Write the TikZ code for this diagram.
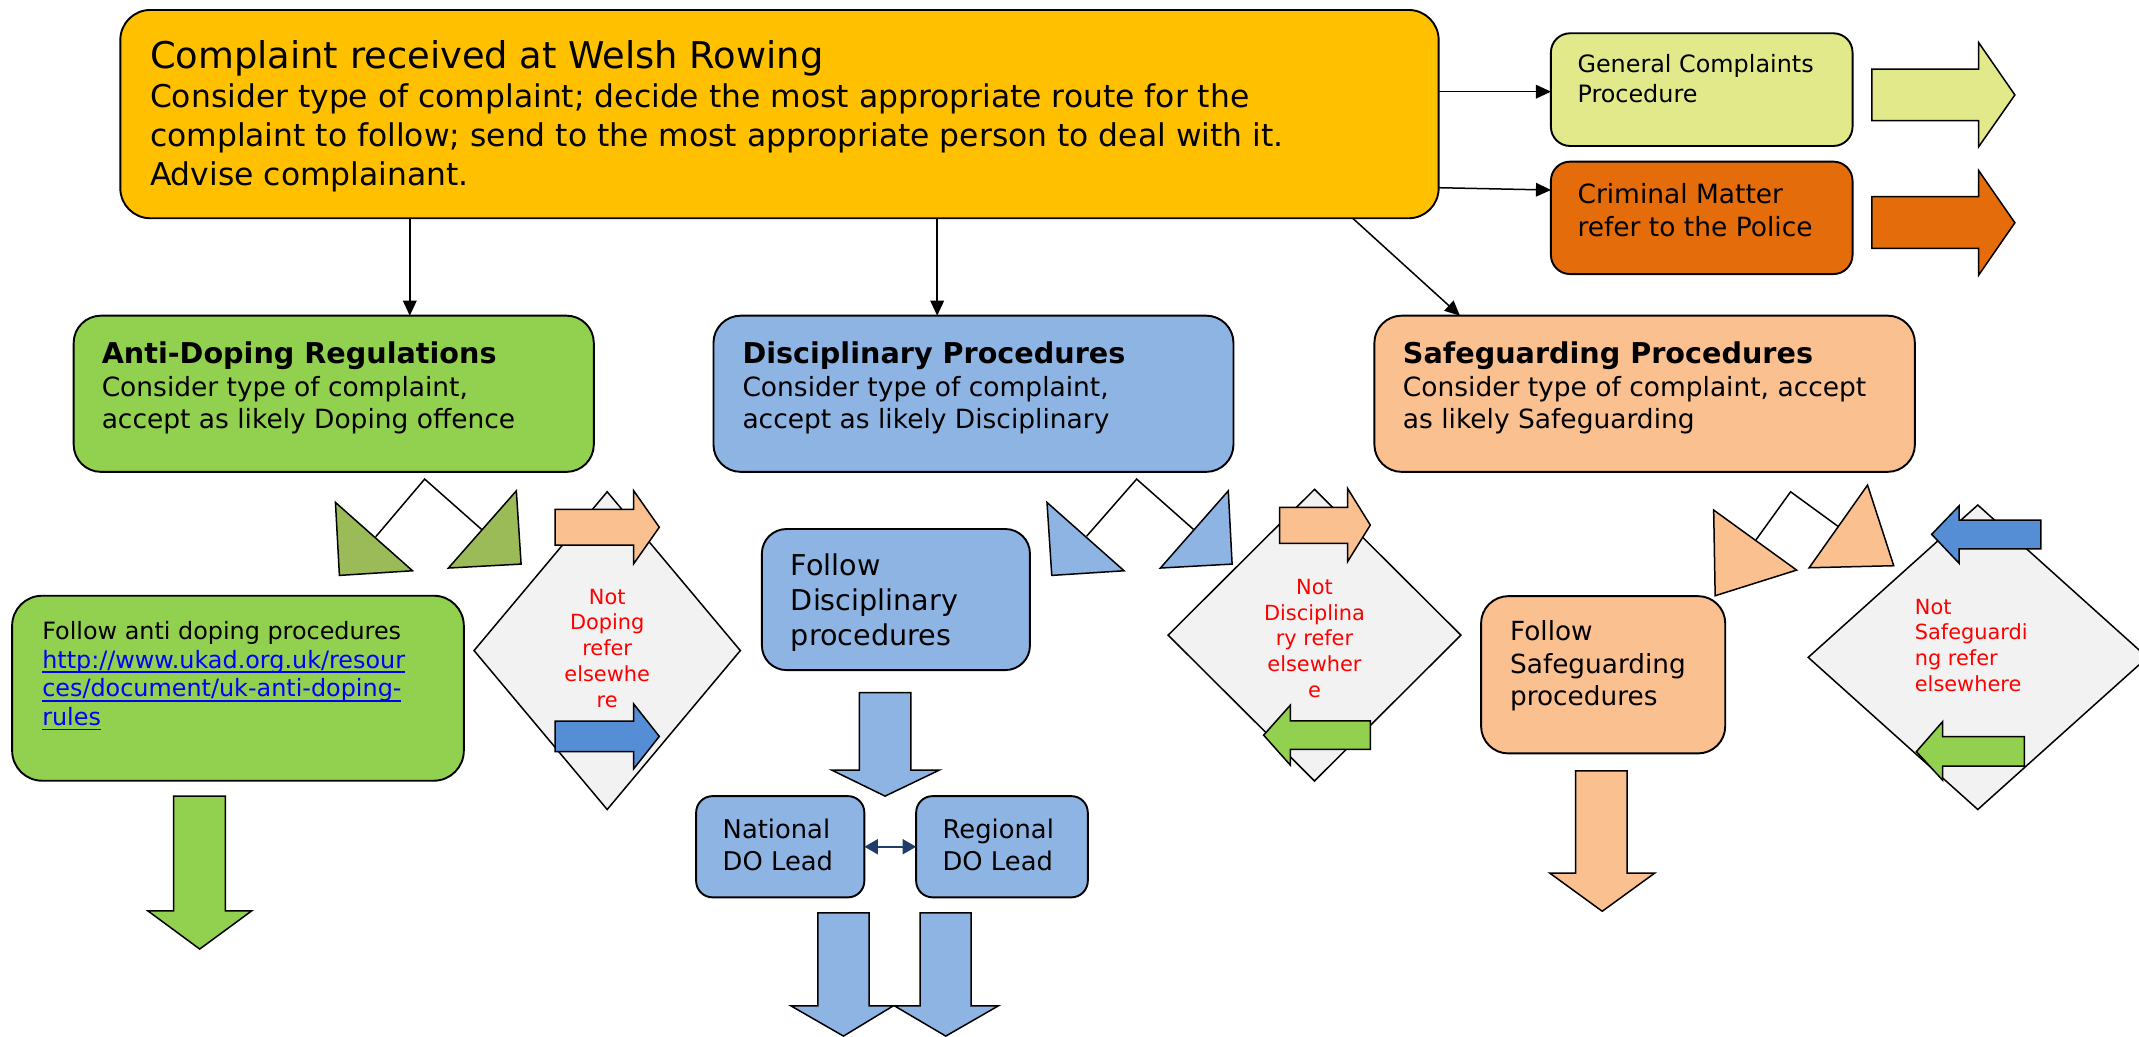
\documentclass[tikz,border=0pt]{standalone}
\usepackage{fontspec}
\setmainfont{DejaVu Sans}
\usetikzlibrary{arrows.meta}
\definecolor{cgold}{HTML}{FFC000}
\definecolor{cgen}{HTML}{E1E98A}
\definecolor{ccrim}{HTML}{E46C0A}
\definecolor{cgreen}{HTML}{92D050}
\definecolor{cblue}{HTML}{8EB4E3}
\definecolor{cpeach}{HTML}{FAC090}
\definecolor{colive}{HTML}{9BBB59}
\definecolor{cgrey}{HTML}{F2F2F2}
\definecolor{cmblue}{HTML}{558ED5}
\definecolor{cnavy}{HTML}{1F3D6B}
\definecolor{clink}{HTML}{0000FF}
\newsavebox\lkbox
\newcommand\lk[1]{\textcolor{clink}{\sbox\lkbox{#1}\rlap{\usebox\lkbox}\rule[-3.4pt]{\wd\lkbox}{1pt}}}
\begin{document}
\begin{tikzpicture}[x=1pt,y=-1pt,
 box/.style={draw=black,line width=1.4pt,rounded corners=#1,inner sep=0pt,outer sep=0pt},
 box/.default=18pt,
 txt/.style={inner sep=0pt,outer sep=0pt,align=left,anchor=north west},
 ttl/.style={inner sep=0pt,outer sep=0pt,anchor=base west},
 conn/.style={draw=black,line width=1.1pt,-{Triangle[length=11pt,width=10pt]}},
 dbl/.style={draw=cnavy,line width=1.6pt,{Triangle[length=10pt,width=11pt]}-{Triangle[length=10pt,width=11pt]}},
 blk/.style={draw=black,line width=1.1pt,line join=miter},
 dia/.style={draw=black,line width=1.1pt,fill=cgrey},
 rtxt/.style={inner sep=0pt,outer sep=0pt,text=red,font=\fontsize{15.3}{19}\selectfont}
]
\useasboundingbox (0,0) rectangle (1568,760);

% ---------- boxes ----------
\node[box=22pt,fill=cgold,minimum width=966.4pt,minimum height=152.7pt] (top) at (571.4,83.65) {};
\node[box=14pt,fill=cgen,minimum width=221.1pt,minimum height=82.6pt] (gc) at (1247.45,65.7) {};
\node[box=14pt,fill=ccrim,minimum width=221.1pt,minimum height=82.4pt] (cm) at (1247.45,159.7) {};
\node[box=20pt,fill=cgreen,minimum width=381.3pt,minimum height=114.5pt] (ad) at (244.65,288.65) {};
\node[box=20pt,fill=cblue,minimum width=381.2pt,minimum height=114.5pt] (dp) at (713.6,288.65) {};
\node[box=20pt,fill=cpeach,minimum width=396.2pt,minimum height=114.5pt] (sg) at (1205.6,288.65) {};
\node[box=22pt,fill=cgreen,minimum width=331.1pt,minimum height=135.6pt] (fad) at (174.45,504.5) {};
\node[box=18pt,fill=cblue,minimum width=196.5pt,minimum height=103.4pt] (fdp) at (656.75,439.5) {};
\node[box=20pt,fill=cpeach,minimum width=179pt,minimum height=115.3pt] (fsg) at (1175.2,494.65) {};
\node[box=12pt,fill=cblue,minimum width=123.3pt,minimum height=74.2pt] (nat) at (571.95,620.7) {};
\node[box=12pt,fill=cblue,minimum width=125.8pt,minimum height=74.2pt] (reg) at (734.5,620.7) {};

% ---------- texts ----------
\node[ttl,font=\fontsize{27}{32}\selectfont] (tt) at (110,50) {Complaint received at Welsh Rowing};
\node[txt,font=\fontsize{23}{28.5}\selectfont] (tb) at (110,58.75) {\strut Consider type of complaint; decide the most appropriate route for the\\\strut complaint to follow; send to the most appropriate person to deal with it.\\\strut Advise complainant.};
\node[txt,font=\fontsize{17.5}{22}\selectfont] (gct) at (1156.4,37.9) {\strut General Complaints\\\strut Procedure};
\node[txt,font=\fontsize{19.4}{24}\selectfont] (cmt) at (1156.4,132.2) {\strut Criminal Matter\\\strut refer to the Police};

\node[ttl,font=\fontsize{21}{24}\selectfont\bfseries] (adt) at (74.6,266.4) {Anti-Doping Regulations};
\node[txt,font=\fontsize{19.4}{23.6}\selectfont] (adb) at (74.6,274.28) {\strut Consider type of complaint,\\\strut accept as likely Doping offence};
\node[ttl,font=\fontsize{21}{24}\selectfont\bfseries] (dpt) at (544.3,266.4) {Disciplinary Procedures};
\node[txt,font=\fontsize{19.4}{23.6}\selectfont] (dpb) at (544.3,274.28) {\strut Consider type of complaint,\\\strut accept as likely Disciplinary};
\node[ttl,font=\fontsize{21}{24}\selectfont\bfseries] (sgt) at (1028.4,266.4) {Safeguarding Procedures};
\node[txt,font=\fontsize{19.4}{23.6}\selectfont] (sgb) at (1028.4,274.28) {\strut Consider type of complaint, accept\\\strut as likely Safeguarding};

\node[txt,font=\fontsize{17.5}{21.1}\selectfont] (fadt) at (31,453.93) {\strut Follow anti doping procedures\\\strut\lk{http://www.ukad.org.uk/resour}\\\strut\lk{ces/document/uk-anti-doping-}\\\strut\lk{rules}};
\node[txt,font=\fontsize{21}{25.9}\selectfont] (fdpt) at (579.8,403.47) {\strut Follow\\\strut Disciplinary\\\strut procedures};
\node[txt,font=\fontsize{19.3}{23.85}\selectfont] (fsgt) at (1107,453.0) {\strut Follow\\\strut Safeguarding\\\strut procedures};
\node[txt,font=\fontsize{18.9}{23.2}\selectfont] (natt) at (529.8,598.36) {\strut National\\\strut DO Lead};
\node[txt,font=\fontsize{18.9}{23.2}\selectfont] (regt) at (691,598.36) {\strut Regional\\\strut DO Lead};

% ---------- connectors ----------
\coordinate (k1) at (300.4,0);
\coordinate (k2) at (687,0);
\coordinate (k3a) at (991.6,0);
\coordinate (k3b) at (1070.2,0);
\coordinate (k4) at (0,67.2);
\coordinate (k5a) at (0,137.6);
\coordinate (k5b) at (0,139.3);
\draw[conn] (top.south -| k1) -- (ad.north -| k1);
\draw[conn] (top.south -| k2) -- (dp.north -| k2);
\draw[conn] (top.south -| k3a) -- (sg.north -| k3b);
\draw[conn] (top.east |- k4) -- (gc.west |- k4);
\draw[conn] (top.east |- k5a) -- (cm.west |- k5b);
\draw[dbl] (nat.east) -- (reg.west);

% ---------- right block arrows ----------
\draw[blk,fill=cgen] (1372.1,50.6)--(1450.5,50.6)--(1450.5,31.3)--(1477,69.6)--(1450.5,107.5)--(1450.5,88.5)--(1372.1,88.5)--cycle;
\draw[blk,fill=ccrim] (1372.1,144.2)--(1450.5,144.2)--(1450.5,125.1)--(1477,163.3)--(1450.5,201.6)--(1450.5,182)--(1372.1,182)--cycle;

% ---------- hats ----------
\draw[blk] (275.4,393.5)--(311.3,351.2)--(353.6,388.6);
\draw[blk,fill=colive] (245.9,368.3)--(248.8,421.8)--(302.4,418.4)--cycle;
\draw[blk,fill=colive] (378.5,359.8)--(382,413.5)--(328.7,416.4)--cycle;
\draw[blk] (796.6,393)--(833.2,351.2)--(874.8,388);
\draw[blk,fill=cblue] (767.5,368.3)--(771,421.8)--(824,418.4)--cycle;
\draw[blk,fill=cblue] (900.4,359.8)--(903.2,413.5)--(850.6,416.4)--cycle;
\draw[blk] (1287.1,395.9)--(1312.6,360.5)--(1347.7,386.1);
\draw[blk,fill=cpeach] (1256.2,373.9)--(1257.3,436.7)--(1317,417.9)--cycle;
\draw[blk,fill=cpeach] (1369,355.6)--(1388.2,414.7)--(1326.2,416.2)--cycle;

% ---------- diamonds ----------
\draw[dia] (445.1,360.5)--(542.7,476.9)--(445.1,593.4)--(347.5,476.9)--cycle;
\draw[dia] (963.6,358.7)--(1070.9,465.6)--(963.6,572.5)--(856.3,465.6)--cycle;
\draw[dia] (1449.8,370.2)--(1574.1,481.9)--(1449.8,593.4)--(1325.5,481.9)--cycle;
\node[rtxt,align=center,anchor=north] (d1t) at (445.1,429.5) {\strut Not\\\strut Doping\\\strut refer\\\strut elsewhe\\\strut re};
\node[rtxt,align=center,anchor=north] (d2t) at (963.6,422.2) {\strut Not\\\strut Disciplina\\\strut ry refer\\\strut elsewher\\\strut e};
\node[rtxt,align=left,anchor=north west] (d3t) at (1403.7,436.8) {\strut Not\\\strut Safeguardi\\\strut ng refer\\\strut elsewhere};

% ---------- small arrows in diamonds ----------
\draw[blk,fill=cpeach] (407,373.4)--(464.5,373.4)--(464.5,359.7)--(483.3,386.5)--(464.5,413.3)--(464.5,399.6)--(407,399.6)--cycle;
\draw[blk,fill=cmblue] (407,528.6)--(464.5,528.6)--(464.5,516)--(483.3,539.8)--(464.5,563.6)--(464.5,551)--(407,551)--cycle;
\draw[blk,fill=cpeach] (938,372)--(987.8,372)--(987.8,358)--(1004.5,384.9)--(987.8,411.8)--(987.8,398.3)--(938,398.3)--cycle;
\draw[blk,fill=cgreen] (1004.5,528.4)--(945.9,528.4)--(945.9,516.9)--(926.3,538.9)--(945.9,560.9)--(945.9,549.4)--(1004.5,549.4)--cycle;
\draw[blk,fill=cmblue] (1496,381.2)--(1436.2,381.2)--(1436.2,370.7)--(1416,391.7)--(1436.2,413)--(1436.2,402.3)--(1496,402.3)--cycle;
\draw[blk,fill=cgreen] (1484,540)--(1424,540)--(1424,529)--(1404.8,551)--(1424,571.9)--(1424,561.6)--(1484,561.6)--cycle;

% ---------- down block arrows ----------
\draw[blk,fill=cgreen] (127.2,583.6)--(165.2,583.6)--(165.2,667.7)--(184.5,667.7)--(146.4,695.7)--(108.4,667.7)--(127.2,667.7)--cycle;
\draw[blk,fill=cblue] (630,507.8)--(667.7,507.8)--(667.7,564.5)--(688.6,564.5)--(648.8,583.6)--(609.7,564.5)--(630,564.5)--cycle;
\draw[blk,fill=cblue] (599.5,669.1)--(637.1,669.1)--(637.1,737.3)--(654.9,737.3)--(618.3,759.5)--(579.7,737.3)--(599.5,737.3)--cycle;
\draw[blk,fill=cblue] (674.5,669.1)--(711.9,669.1)--(711.9,737.3)--(731.9,737.3)--(693.3,759.5)--(655.6,737.3)--(674.5,737.3)--cycle;
\draw[blk,fill=cpeach] (1155,565)--(1192.7,565)--(1192.7,640)--(1213,640)--(1174.5,668)--(1136,640)--(1155,640)--cycle;
\end{tikzpicture}
\end{document}
